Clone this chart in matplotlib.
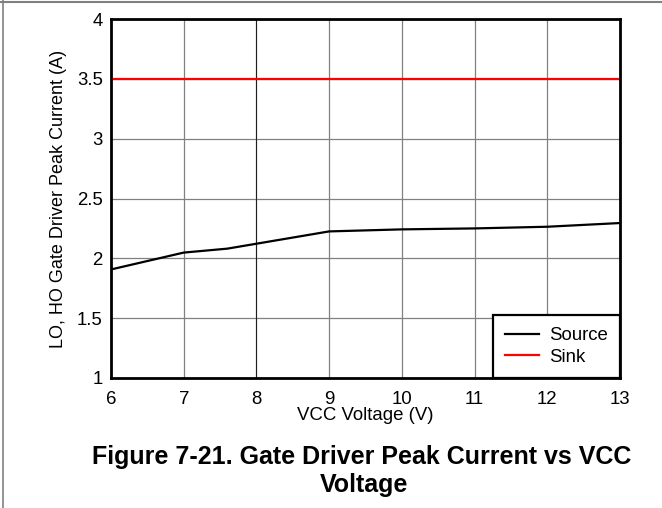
import matplotlib
matplotlib.use("Agg")
import matplotlib.pyplot as plt
from matplotlib.lines import Line2D

# VCC voltage (V) and peak current (A)
vcc_source = [6, 7, 7.6, 9, 10, 11, 12, 13]
source_current = [1.907, 2.048, 2.081, 2.225, 2.242, 2.25, 2.264, 2.295]
vcc_sink = [6, 13]
sink_current = [3.5, 3.5]

x_ticks = [6, 7, 8, 9, 10, 11, 12, 13]
y_ticks = [1, 1.5, 2, 2.5, 3, 3.5, 4]
y_tick_labels = ["1", "1.5", "2", "2.5", "3", "3.5", "4"]

plt.rcParams["font.family"] = ["Liberation Sans", "DejaVu Sans"]

fig = plt.figure(figsize=(6.62, 5.08), dpi=100)
# axes box: x 111..620 px, y 19..378 px
ax = fig.add_axes([111 / 662, 1 - 378 / 508, 509 / 662, 359 / 508])

ax.plot(vcc_source, source_current, color="black", lw=1.6, label="Source")
ax.plot(vcc_sink, sink_current, color="#ff0000", lw=1.6, label="Sink")

ax.set_xlim(6, 13)
ax.set_ylim(1, 4)
ax.set_xticks(x_ticks)
ax.set_yticks(y_ticks)
ax.set_yticklabels(y_tick_labels)
ax.tick_params(length=0, labelsize=13.4)
ax.tick_params(axis="y", pad=6)
ax.tick_params(axis="x", pad=9)
ax.grid(True, color="#808080", lw=0.9)
# the 8 V grid line is drawn darker in the original
ax.axvline(8, color="#202020", lw=0.75, zorder=0.6)
for s in ax.spines.values():
    s.set_linewidth(2)
    s.set_color("black")
ax.set_axisbelow(True)

ax.set_xlabel("VCC Voltage (V)", fontsize=13.4, labelpad=0)
ax.set_ylabel("LO, HO Gate Driver Peak Current (A)", fontsize=13, labelpad=7)

leg = ax.legend(loc="lower right", borderaxespad=0, fontsize=13.4, fancybox=False,
                framealpha=1, edgecolor="black", handlelength=1.8,
                handletextpad=0.55, labelspacing=0.25, borderpad=0.65)
leg.get_frame().set_linewidth(1.6)

fig.text(362 / 662, 1 - 457 / 508, "Figure 7-21. Gate Driver Peak Current vs VCC",
         ha="center", va="center", fontsize=18, fontweight="bold")
fig.text(364 / 662, 1 - 485 / 508, "Voltage",
         ha="center", va="center", fontsize=18, fontweight="bold")

# thin gray frame lines along the top and left edges
fig.add_artist(Line2D([0, 1], [0.997, 0.997], transform=fig.transFigure,
                      color="#808080", lw=1.5))
fig.add_artist(Line2D([0.005, 0.005], [0, 1], transform=fig.transFigure,
                      color="#808080", lw=1.2))

fig.savefig("out.png", dpi=100)
